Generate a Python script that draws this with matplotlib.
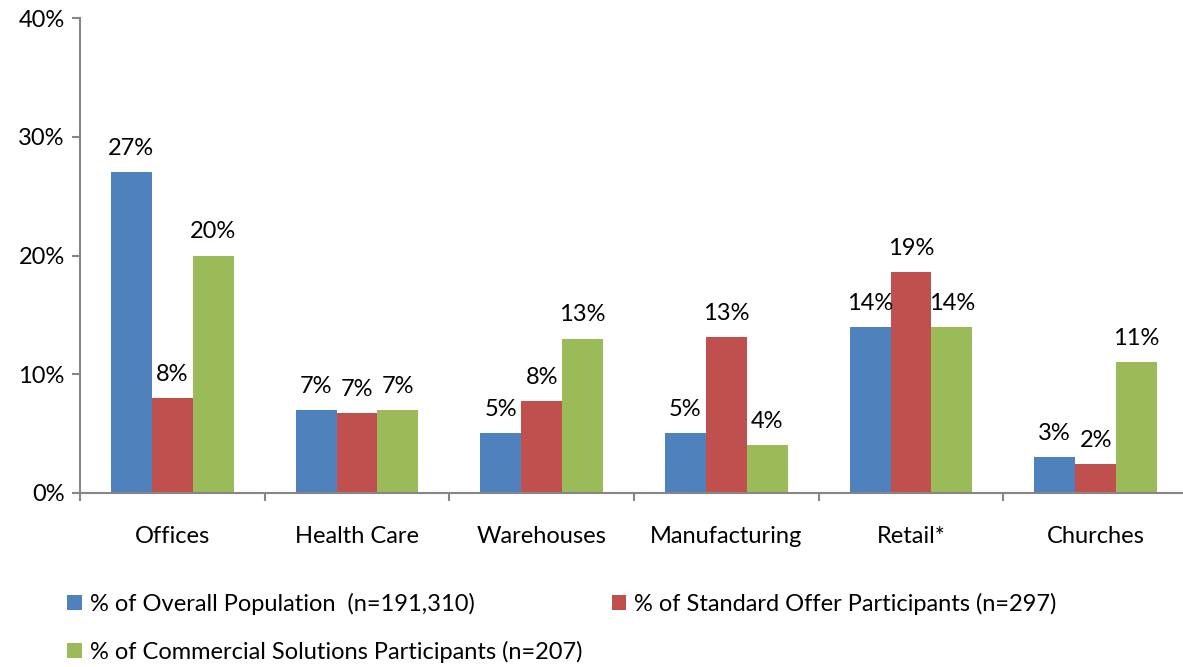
import numpy as np
import matplotlib
matplotlib.use("Agg")
import matplotlib.pyplot as plt

plt.rcParams['font.family'] = ['Lato', 'DejaVu Sans']

categories = ['Offices', 'Health Care', 'Warehouses', 'Manufacturing', 'Retail*', 'Churches']
overall = [27.0, 7.0, 5.0, 5.0, 14.0, 3.0]
standard_offer = [8.0, 6.7, 7.7, 13.1, 18.6, 2.4]
commercial = [20.0, 7.0, 13.0, 4.0, 14.0, 11.0]

series_names = ['% of Overall Population  (n=191,310)',
                '% of Standard Offer Participants (n=297)',
                '% of Commercial Solutions Participants (n=207)']
colors = ['#4F81BD', '#C0504D', '#9BBB59']
axis_gray = '#868686'
fs = 17

fig = plt.figure(figsize=(11.83, 6.67), dpi=100)
ax = fig.add_axes([80 / 1183, 1 - 492.7 / 667, 1108 / 1183, (492.7 - 18.3) / 667])

x = np.arange(len(categories))
w = 0.222
bars = []
for i, (vals, col) in enumerate(zip([overall, standard_offer, commercial], colors)):
    b = ax.bar(x + (i - 1) * w, vals, w, color=col, label=series_names[i], zorder=2)
    bars.append(b)
    for xi, v in zip(x + (i - 1) * w, vals):
        ax.text(xi, v + 1.1, '%d%%' % round(v), ha='center', va='bottom', fontsize=fs)

ax.set_xlim(-0.5, len(categories) - 0.5)
ax.set_ylim(0, 40)
ax.set_yticks([0, 10, 20, 30, 40])
ax.set_yticklabels(['0%', '10%', '20%', '30%', '40%'], fontsize=fs)

# category labels centred, tick marks on the group boundaries
ax.set_xticks(x)
ax.set_xticklabels(categories, fontsize=fs)
ax.tick_params(axis='x', length=0, pad=24)
ax.set_xticks(np.arange(len(categories) + 1) - 0.5, minor=True)
ax.tick_params(axis='x', which='minor', length=6, color=axis_gray, width=1.5, direction='out')
ax.tick_params(axis='y', length=6, color=axis_gray, width=1.5, direction='out', pad=5)

for s in ['top', 'right']:
    ax.spines[s].set_visible(False)
for s in ['left', 'bottom']:
    ax.spines[s].set_color(axis_gray)
    ax.spines[s].set_linewidth(1.5)

handles = [bars[0], bars[2], bars[1]]
labels = [series_names[0], series_names[2], series_names[1]]
fig.legend(handles, labels, ncol=2, loc='upper left', bbox_to_anchor=(58 / 1183, 1 - 583 / 667),
           frameon=False, fontsize=fs, handlelength=0.6, handleheight=0.6,
           handletextpad=0.35, columnspacing=1.25, labelspacing=1.1, borderaxespad=0)

fig.savefig('out.png', dpi=100)
